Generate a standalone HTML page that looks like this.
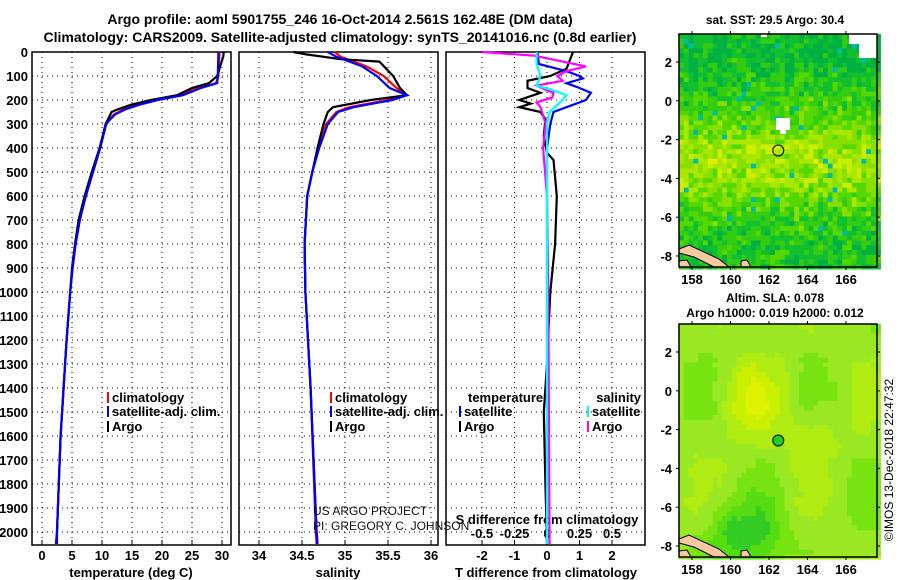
<!DOCTYPE html>
<html><head><meta charset="utf-8"><style>
body{margin:0;background:#fff;}
svg{display:block;font-family:"Liberation Sans",sans-serif;}
.b{font-weight:bold;}
</style></head><body>
<svg id="c" width="900" height="580" viewBox="0 0 900 580">
<text x="340" y="24" text-anchor="middle" font-size="14" class="b">Argo profile: aoml 5901755_246 16-Oct-2014 2.561S 162.48E (DM data)</text>
<text x="340" y="42" text-anchor="middle" font-size="14" class="b">Climatology: CARS2009. Satellite-adjusted climatology: synTS_20141016.nc (0.8d earlier)</text>
<g id="plots"></g>
<g id="maps"></g>
<text x="775" y="24" text-anchor="middle" font-size="12" class="b">sat. SST: 29.5 Argo: 30.4</text>
<text x="775" y="302" text-anchor="middle" font-size="12" class="b">Altim. SLA: 0.078</text>
<text x="775" y="317" text-anchor="middle" font-size="12" class="b">Argo h1000: 0.019 h2000: 0.012</text>
<text x="0" y="0" transform="translate(893,460) rotate(-90)" text-anchor="middle" font-size="12">©IMOS 13-Dec-2018 22:47:32</text>
<text x="313" y="515" font-size="12" fill="#111">US ARGO PROJECT</text>
<text x="313" y="530" font-size="12" fill="#111">PI: GREGORY C. JOHNSON</text>
</svg>
<script>
// ---- data ----
const depthTicks=[0,100,200,300,400,500,600,700,800,900,1000,1100,1200,1300,1400,1500,1600,1700,1800,1900,2000];
const tempTicks=[0,5,10,15,20,25,30];
const salTicks=[34,34.5,35,35.5,36];
const tdTicks=[-2,-1,0,1,2];
const sdTicks=[-0.5,-0.25,0,0.25,0.5];
const sdTickLabels=["-0.5","-0.25","0","0.25","0.5"];
const tArgoD=[0,20,100,130,150,180,200,220,240,250,280,300,400,500,600,700,800,900,1000,1200,1400,1600,1800,2000,2050];
const tArgoV=[30.3,30.2,29.2,27.8,25,22.5,18.2,14.8,12.5,11.6,11,10.6,9.6,8.3,7.1,6.1,5.5,5.0,4.7,4.1,3.6,3.1,2.8,2.5,2.4];
const tClimD=[0,100,130,150,180,200,220,240,260,280,300,400,500,600,700,800,900,1000,1200,1400,1600,1800,2000,2050];
const tClimV=[29.6,29.4,29,26,23,18.8,15.8,13.5,12,11.3,10.7,9.7,8.5,7.3,6.3,5.6,5.1,4.7,4.1,3.6,3.1,2.8,2.5,2.3];
const tSatD=[0,100,130,150,180,200,220,240,260,280,300,400,500,600,700,800,900,1000,1200,1400,1600,1800,2000,2050];
const tSatV=[29.4,29.3,29.2,26.5,23.5,19.3,16.2,13.8,12.2,11.4,10.7,9.7,8.5,7.3,6.3,5.6,5.1,4.7,4.1,3.6,3.1,2.8,2.5,2.5];
const sArgoD=[0,10,30,40,100,150,180,200,230,250,300,400,500,600,800,1000,1400,2000,2050];
const sArgoV=[34.4,34.55,34.95,35.4,35.56,35.64,35.72,35.3,34.86,34.8,34.75,34.68,34.62,34.56,34.53,34.54,34.6,34.67,34.68];
const sClimD=[0,20,60,100,150,180,200,230,250,300,400,500,600,800,1000,1400,2000,2050];
const sClimV=[34.88,34.95,35.25,35.45,35.6,35.72,35.5,35.05,34.9,34.78,34.69,34.62,34.56,34.53,34.54,34.6,34.66,34.67];
const sSatD=[0,20,60,100,150,180,200,230,250,300,400,500,600,800,1000,1400,2000,2050];
const sSatV=[34.8,34.9,35.2,35.37,35.52,35.72,35.55,35.1,34.92,34.8,34.7,34.62,34.56,34.53,34.54,34.6,34.67,34.68];
const dTArgoD=[0,70,100,120,150,170,200,215,230,250,280,350,420,450,600,800,1000,1300,1500,1800,2050];
const dTArgoV=[0.8,0.6,0.1,-0.6,-0.6,-0.2,-0.85,-0.5,-0.85,-0.2,-0.05,-0.1,0,0.2,0.3,0.25,0.1,0,-0.1,-0.05,0];
const dTSatD=[0,50,80,100,110,130,150,170,200,220,250,300,400,2050];
const dTSatV=[-0.3,-0.25,0.6,1.0,1.1,0.6,1.0,1.35,1.2,0.8,0.2,0.1,0,0];
const dSArgoD=[0,15,60,80,100,120,140,160,170,190,210,230,300,400,600,1000,2050];
const dSArgoV=[-0.5,-0.1,0.3,0.15,0.08,0.12,-0.08,0,0.05,0.04,-0.08,-0.05,-0.01,-0.03,0,0.01,0.02];
const dSSatD=[0,50,100,140,160,180,200,220,250,300,2050];
const dSSatV=[-0.08,-0.08,-0.05,-0.08,0.05,0.15,0.12,0.08,0.02,0,0];
// ---- drawing ----
const NS="http://www.w3.org/2000/svg";
const svg=document.getElementById('c');
const P=document.getElementById('plots');
function mk(tag,at,par){const e=document.createElementNS(NS,tag);for(const k in at)e.setAttribute(k,at[k]);(par||P).appendChild(e);return e;}
const top0=52,bot=545;
const yD=d=>top0+d*0.24;
const xT=v=>42+v*6;
const xS=v=>259+(v-34)*86;
const xTD=v=>547+v*32.5;
const xSD=v=>547+v*130;
const panels=[[32,231],[239,438],[446,645]];
function line(D,V,fx,color,name){
  const pts=D.map((d,i)=>fx(V[i]).toFixed(1)+","+yD(d).toFixed(1)).join(" ");
  const e=mk('polyline',{points:pts,fill:'none',stroke:color,'stroke-width':2.2});
  
  
}
panels.forEach((p,i)=>{
  const g=mk('g',{});
  
  
  depthTicks.forEach(d=>{
    mk('line',{x1:p[0],x2:p[1],y1:yD(d),y2:yD(d),stroke:'#000','stroke-dasharray':'1,4','stroke-width':1},g);
  });
  const xt=i==0?tempTicks.map(xT):i==1?salTicks.map(xS):tdTicks.map(xTD);
  xt.forEach(x=>{mk('line',{x1:x,x2:x,y1:top0,y2:bot,stroke:'#000','stroke-dasharray':'1,4','stroke-width':1},g);
    mk('line',{x1:x,x2:x,y1:bot,y2:bot-5,stroke:'#000'},g);});
  mk('rect',{x:p[0],y:top0,width:p[1]-p[0],height:bot-top0,fill:'none',stroke:'#000','stroke-width':1.5},g);
});
depthTicks.forEach(d=>{
  const t=mk('text',{x:28,y:yD(d)+5,'text-anchor':'end','font-size':13,'font-weight':'bold'});
  t.textContent=d;
  
  
});
function xl(arr,fx,labels,y,name){arr.forEach((v,i)=>{const t=mk('text',{x:fx(v),y:y,'text-anchor':'middle','font-size':13,'font-weight':'bold'});t.textContent=labels?labels[i]:v;
  
  });}
xl(tempTicks,xT,null,560,'temp-tick-label');
xl(salTicks,xS,null,560,'salinity-tick-label');
xl(tdTicks,xTD,null,560,'tdiff-tick-label');
xl(sdTicks,xSD,sdTickLabels,538,'sdiff-tick-label');
function lbl(x,y,s,name,anchor,fs){const t=mk('text',{x:x,y:y,'text-anchor':anchor||'middle','font-size':fs||13,'font-weight':'bold'});t.textContent=s;
  
  }
lbl(131,577,'temperature (deg C)','x-axis-title-temperature');
lbl(338,577,'salinity','x-axis-title-salinity');
lbl(546,577,'T difference from climatology','x-axis-title-tdiff');
lbl(547,524,'S difference from climatology','x-axis-title-sdiff');
// series
line(tClimD,tClimV,xT,'#f00','temp-climatology-line');
line(tArgoD,tArgoV,xT,'#000','temp-argo-line');
line(tSatD,tSatV,xT,'#00f','temp-satellite-line');
line(sClimD,sClimV,xS,'#f00','sal-climatology-line');
line(sArgoD,sArgoV,xS,'#000','sal-argo-line');
line(sSatD,sSatV,xS,'#00f','sal-satellite-line');
line(dTArgoD,dTArgoV,xTD,'#000','tdiff-argo-line');
line(dTSatD,dTSatV,xTD,'#00f','tdiff-satellite-line');
line(dSArgoD,dSArgoV,xSD,'#f0f','sdiff-argo-line');
line(dSSatD,dSSatV,xSD,'#0ff','sdiff-satellite-line');
// legends
function leg(x,y,c,s,name,anchor,tx){mk('rect',{x:x,y:y-10,width:2,height:11,fill:c});const t=mk('text',{x:tx||x+5,y:y,'font-size':13,'font-weight':'bold','text-anchor':anchor||'start'});t.textContent=s;
  
  }
leg(107,402,'#f00','climatology','legend-temp-climatology');
leg(107,416,'#00f','satellite-adj. clim.','legend-temp-satellite');
leg(107,431,'#000','Argo','legend-temp-argo');
leg(330,402,'#f00','climatology','legend-sal-climatology');
leg(330,416,'#00f','satellite-adj. clim.','legend-sal-satellite');
leg(330,431,'#000','Argo','legend-sal-argo');
lbl(468,402,'temperature','legend-header-temperature','start');
leg(459,416,'#00f','satellite','legend-tdiff-satellite');
leg(459,431,'#000','Argo','legend-tdiff-argo');
lbl(641,402,'salinity','legend-header-salinity','end');
leg(587,416,'#0ff','satellite','legend-sdiff-satellite','start',592);
leg(587,431,'#f0f','Argo','legend-sdiff-argo','start',592);

// ---- maps ----
const M=document.getElementById('maps');
const lonTicks=[158,160,162,164,166];
const latTicks=[2,0,-2,-4,-6,-8];
function hash(i,j,s){let h=(i*374761393+j*668265263+s*982451653)|0;h=(h^(h>>>13))*1274126177|0;return ((h^(h>>>16))>>>0)/4294967296;}
function drawMap(y0,y1,lat2y,kind,name){
  const x0=679,x1=877;
  const g=mk('g',{},M);
  
  
  const lx=lon=>692+(lon-158)*19.25;
  const ly=lat=>lat2y+(2-lat)*19.4;
  const cs=4.8;
  const pal1=['#00b040','#10c030','#33cc11','#55d800','#88e000','#aae800','#ccee00','#e6ee00'];
  const pal2=['#33cc22','#55dd11','#77e311','#99e822','#b0ec11','#c8f000','#ddf200'];
  for(let i=0;i*cs<x1-x0;i++)for(let j=0;j*cs<y1-y0;j++){
    const lon=157.3+i*0.25,lat=3.5-j*0.25;
    let v;
    if(kind==1){
      const band=Math.exp(-Math.pow((lat+3)/2.5,2));
      v=0.22+0.45*band+0.35*(hash(i,j,1)-0.5)+0.15*(hash(i>>1,j>>1,2)-0.5);
      if(lat>1.5)v-=0.08;
    } else {
      v=0.5+0.15*Math.sin(lon*1.1)*Math.cos(lat*0.6)+0.3*Math.exp(-Math.pow((lon-161)/1.5,2)-Math.pow((lat+0.5)/2,2))
        +0.2*Math.exp(-Math.pow((lon-164)/1.2,2)-Math.pow((lat+2.5)/1.5,2))
        -0.45*Math.exp(-Math.pow((lon-160.5)/2,2)-Math.pow((lat+7.5)/1.8,2))+0.08*(hash(i>>2,j>>2,3)-0.5);
    }
    const pal=kind==1?pal1:pal2;
    let k=Math.max(0,Math.min(pal.length-1,Math.floor(v*pal.length)));
    let col=pal[k];
    if(kind==1&&hash(i,j,7)>0.985)col='#00bbaa';
    mk('rect',{x:x0+i*cs,y:y0+j*cs,width:cs+0.3,height:cs+0.3,fill:col},g);
  }
  if(kind==1){
    mk('polygon',{points:`${x0+170},${y0} ${x1},${y0} ${x1},${y0+24} ${x0+180},${y0+24} ${x0+180},${y0+10} ${x0+170},${y0+10}`,fill:'#fff'},g);
    mk('rect',{x:776,y:118,width:14,height:12,fill:'#fff'},g);
    mk('rect',{x:780,y:126,width:6,height:8,fill:'#fff'},g);
    mk('rect',{x:x0+82,y:y0,width:6,height:3,fill:'#fff'},g);
  }
  // land
  mk('polygon',{points:`${x0},${y1-18} ${x0+10},${y1-22} ${x0+40},${y1-8} ${x0+50},${y1} ${x0+35},${y1} ${x0+15},${y1-10} ${x0},${y1-14}`,fill:'#f8c8a0',stroke:'#000','stroke-width':1},g);
  mk('polygon',{points:`${x0},${y1-6} ${x0+8},${y1-7} ${x0+12},${y1} ${x0},${y1}`,fill:'#f8c8a0',stroke:'#000','stroke-width':1},g);
  mk('polygon',{points:`${x0+62},${y1-6} ${x0+68},${y1-7} ${x0+72},${y1} ${x0+62},${y1}`,fill:'#f8c8a0',stroke:'#000','stroke-width':1},g);
  mk('circle',{cx:lx(162.48),cy:ly(-2.561),r:5.5,fill:kind==2?'#22cc22':'none',stroke:'#000','stroke-width':1},g);
  mk('rect',{x:x0,y:y0,width:x1-x0,height:y1-y0,fill:'none',stroke:'#000','stroke-width':1.5},g);
  lonTicks.forEach(l=>{const x=lx(l);mk('line',{x1:x,x2:x,y1:y0,y2:y0-3,stroke:'#000'},g);mk('line',{x1:x,x2:x,y1:y1,y2:y1+3,stroke:'#000'},g);
    const t=mk('text',{x:x,y:y1+17,'text-anchor':'middle','font-size':13,'font-weight':'bold'},g);t.textContent=l;
    
    });
  latTicks.forEach(l=>{const y=ly(l);mk('line',{x1:x0,x2:x0-3,y1:y,y2:y,stroke:'#000'},g);mk('line',{x1:x1,x2:x1+3,y1:y,y2:y,stroke:'#000'},g);
    const t=mk('text',{x:672,y:y+5,'text-anchor':'end','font-size':13,'font-weight':'bold'},g);t.textContent=l;
    
    });
}
drawMap(34,267,62,1,'sst-map');
drawMap(324,557,352,2,'sla-map');
</script>
</body></html>
